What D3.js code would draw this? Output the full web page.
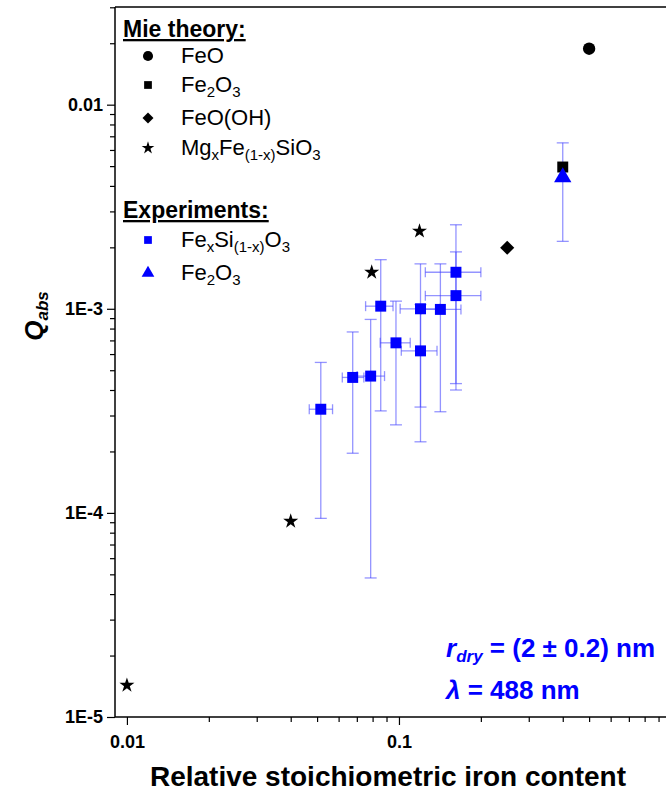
<!DOCTYPE html>
<html>
<head>
<meta charset="utf-8">
<script src="https://cdn.jsdelivr.net/npm/d3@7"></script>
<style>
  body { margin: 0; background: #fff; }
  text { font-family: Arial, "Liberation Sans", sans-serif; }
</style>
</head>
<body>
<div id="chart"></div>
<script>
/* Q_abs vs relative iron content, log-log */

// Mie theory values
const mieFeO = [{x: 0.5, y: 0.0188}];
const mieFe2O3 = [{x: 0.40, y: 0.00495}];
const mieFeOOH = [{x: 0.25, y: 0.00199}];
const mieMgFe = [
    {x: 0.01, y: 1.43e-5},
    {x: 0.04, y: 9.1e-5},
    {x: 0.0794, y: 1.51e-3},
    {x: 0.119, y: 2.4e-3}
];

// experiments: value, y error range, x error range
const expFeSi = [
    {x: 0.0516, y: 3.22e-4, ylo: 9.4e-5,  yhi: 5.46e-4, xlo: 0.0468, xhi: 0.0570},
    {x: 0.0676, y: 4.61e-4, ylo: 1.96e-4, yhi: 7.7e-4,  xlo: 0.0619, xhi: 0.0743},
    {x: 0.0787, y: 4.68e-4, ylo: 4.8e-5,  yhi: 8.87e-4, xlo: 0.0702, xhi: 0.0885},
    {x: 0.0857, y: 1.03e-3, ylo: 3.16e-4, yhi: 1.74e-3, xlo: 0.0754, xhi: 0.0951},
    {x: 0.0975, y: 6.81e-4, ylo: 2.70e-4, yhi: 1.09e-3, xlo: 0.0853, xhi: 0.110},
    {x: 0.120,  y: 1.0e-3,  ylo: 3.3e-4,  yhi: 1.66e-3, xlo: 0.101,  xhi: 0.141},
    {x: 0.120,  y: 6.22e-4, ylo: 2.23e-4, yhi: 1.05e-3, xlo: 0.102,  xhi: 0.138},
    {x: 0.142,  y: 9.93e-4, ylo: 3.13e-4, yhi: 1.66e-3, xlo: 0.1205, xhi: 0.169},
    {x: 0.162,  y: 1.51e-3, ylo: 4.3e-4,  yhi: 2.58e-3, xlo: 0.125,  xhi: 0.200},
    {x: 0.162,  y: 1.16e-3, ylo: 4.0e-4,  yhi: 1.9e-3,  xlo: 0.125,  xhi: 0.200}
];
const expFe2O3 = [{x: 0.40, y: 4.41e-3, ylo: 2.14e-3, yhi: 6.5e-3}];

const yTicks = [1e-5, 1e-4, 1e-3, 0.01];
const yTickLabels = ["1E-5", "1E-4", "1E-3", "0.01"];
const xTicks = [0.01, 0.1];
const xTickLabels = ["0.01", "0.1"];

const width = 666, height = 794;
const pLeft = 115, pTop = 7, pBottom = 717, pRight = 671;

let svg = d3.select("#chart").append("svg")
    .attr("width", width).attr("height", height);

let x = d3.scaleLog().domain([0.00904, 1.0]).range([pLeft, pRight]);
let y = d3.scaleLog().domain([1e-5, 0.0301]).range([pBottom, pTop]);

// minor ticks
const minorX = [], minorY = [];
for (let dec of [0.001, 0.01, 0.1]) for (let k = 2; k <= 9; k++) minorX.push(dec * k);
for (let dec of [1e-6, 1e-5, 1e-4, 1e-3, 0.01]) for (let k = 2; k <= 9; k++) minorY.push(dec * k);

svg.append("g")
    .attr("transform", `translate(0,${pBottom})`)
    .call(d3.axisBottom(x).tickValues(minorX.filter(v => v > 0.00904 && v < 1)).tickSize(5).tickFormat(""))
    .call(g => g.select(".domain").remove());
svg.append("g")
    .attr("transform", `translate(${pLeft},0)`)
    .call(d3.axisLeft(y).tickValues(minorY.filter(v => v > 1e-5 && v < 0.0301)).tickSize(5).tickFormat(""))
    .call(g => g.select(".domain").remove());

svg.append("g")
    .attr("transform", `translate(0,${pBottom})`)
    .call(d3.axisBottom(x).tickValues(xTicks).tickSize(8).tickFormat((d, i) => xTickLabels[i]))
    .call(g => g.select(".domain").attr("d", `M${pLeft},0H${pRight}`).attr("stroke-width", 1.5))
    .call(g => g.selectAll("text").attr("font-size", 18).attr("font-weight", "bold").attr("dy", "1.1em"));

svg.append("g")
    .attr("transform", `translate(${pLeft},0)`)
    .call(d3.axisLeft(y).tickValues(yTicks).tickSize(8).tickFormat((d, i) => yTickLabels[i]))
    .call(g => g.select(".domain").attr("d", `M0,${pBottom}V${pTop}`).attr("stroke-width", 1.5))
    .call(g => g.selectAll("text").attr("font-size", 18).attr("font-weight", "bold").attr("x", -12));

svg.selectAll(".tick line").attr("stroke-width", 1.2);

svg.append("line")        // top frame
    .attr("x1", pLeft).attr("x2", width).attr("y1", pTop).attr("y2", pTop)
    .attr("stroke", "#000").attr("stroke-width", 1.5);

// error bars
const errColor = "rgba(60,60,255,0.55)";
let eb = svg.append("g").attr("stroke", errColor).attr("stroke-width", 1.3);
for (let d of expFeSi.concat(expFe2O3)) {
    eb.append("line").attr("x1", x(d.x)).attr("x2", x(d.x)).attr("y1", y(d.ylo)).attr("y2", y(d.yhi));
    for (let v of [d.ylo, d.yhi])
        eb.append("line").attr("x1", x(d.x) - 6).attr("x2", x(d.x) + 6).attr("y1", y(v)).attr("y2", y(v));
    if (d.xlo) {
        eb.append("line").attr("x1", x(d.xlo)).attr("x2", x(d.xhi)).attr("y1", y(d.y)).attr("y2", y(d.y));
        for (let v of [d.xlo, d.xhi])
            eb.append("line").attr("x1", x(v)).attr("x2", x(v)).attr("y1", y(d.y) - 5).attr("y2", y(d.y) + 5);
    }
}

function marks(data, type, size, color, rot) {
    svg.append("g").selectAll("path").data(data).join("path")
        .attr("transform", d => `translate(${x(d.x)},${y(d.y)}) rotate(${rot || 0})`)
        .attr("d", d3.symbol().type(type).size(size))
        .attr("fill", color);
}
marks(mieFeO, d3.symbolCircle, 120, "#000");
marks(mieFe2O3, d3.symbolSquare, 120, "#000");
marks(mieFeOOH, d3.symbolSquare, 100, "#000", 45);
marks(mieMgFe, d3.symbolStar, 70, "#000");
marks(expFeSi, d3.symbolSquare, 120, "#0000ff");
marks(expFe2O3, d3.symbolTriangle, 130, "#0000ff");

// legend
let lg = svg.append("g").attr("font-size", 22);
function legTitle(txt, yy) {
    lg.append("text").attr("x", 123).attr("y", yy).attr("font-weight", "bold").attr("font-size", 23)
        .attr("text-decoration", "underline").text(txt);
}
function legItem(type, size, color, yy, parts, rot) {
    lg.append("path").attr("transform", `translate(148,${yy - 7}) rotate(${rot || 0})`)
        .attr("d", d3.symbol().type(type).size(size)).attr("fill", color);
    let t = lg.append("text").attr("x", 181).attr("y", yy);
    for (let p of parts) {
        let s = t.append("tspan").text(p[0]);
        if (p[1]) s.attr("font-size", 15).attr("baseline-shift", "-30%");
    }
}
legTitle("Mie theory:", 37);
legItem(d3.symbolCircle, 80, "#000", 63, [["FeO"]]);
legItem(d3.symbolSquare, 60, "#000", 92, [["Fe"], ["2", 1], ["O"], ["3", 1]]);
legItem(d3.symbolSquare, 60, "#000", 125, [["FeO(OH)"]], 45);
legItem(d3.symbolStar, 50, "#000", 155, [["Mg"], ["x", 1], ["Fe"], ["(1-x)", 1], ["SiO"], ["3", 1]]);
legTitle("Experiments:", 218);
legItem(d3.symbolSquare, 60, "#0000ff", 247, [["Fe"], ["x", 1], ["Si"], ["(1-x)", 1], ["O"], ["3", 1]]);
legItem(d3.symbolTriangle, 70, "#0000ff", 280, [["Fe"], ["2", 1], ["O"], ["3", 1]]);

// annotation
let an = svg.append("g").attr("fill", "#0000ff").attr("font-weight", "bold").attr("font-size", 26);
let a1 = an.append("text").attr("x", 446).attr("y", 657);
a1.append("tspan").attr("font-style", "italic").text("r");
a1.append("tspan").attr("font-style", "italic").attr("font-size", 17).attr("baseline-shift", "-30%").text("dry");
a1.append("tspan").text(" = (2 ± 0.2) nm");
let a2 = an.append("text").attr("x", 446).attr("y", 699);
a2.append("tspan").attr("font-style", "italic").text("λ");
a2.append("tspan").text(" = 488 nm");

// axis titles
svg.append("text").attr("x", 388).attr("y", 786).attr("text-anchor", "middle")
    .attr("font-size", 28).attr("font-weight", "bold").text("Relative stoichiometric iron content");
let yl = svg.append("text").attr("transform", "translate(43,316) rotate(-90)").attr("text-anchor", "middle")
    .attr("font-size", 26).attr("font-weight", "bold").attr("font-style", "italic");
yl.append("tspan").text("Q");
yl.append("tspan").attr("font-size", 17).attr("baseline-shift", "-30%").text("abs");
</script>
</body>
</html>
